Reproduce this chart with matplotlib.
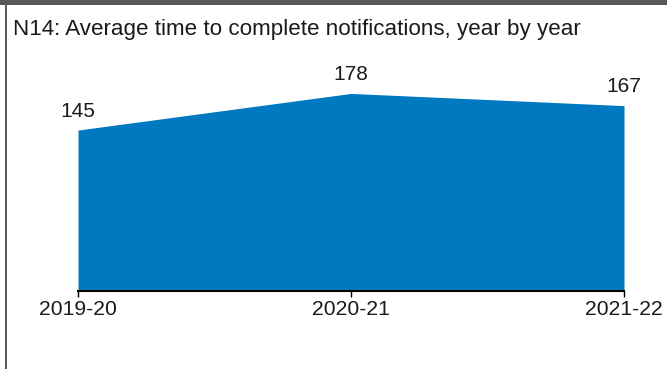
import matplotlib
matplotlib.use("Agg")
import matplotlib.pyplot as plt
from matplotlib.patches import Rectangle

categories = ["2019-20", "2020-21", "2021-22"]
values = [145, 178, 167]
title = "N14: Average time to complete notifications, year by year"

W, H = 667, 369
fig = plt.figure(figsize=(W / 100, H / 100), dpi=100)
plt.rcParams['font.family'] = ['Liberation Sans', 'DejaVu Sans']

# frame
fig.patches.append(Rectangle((0, 1 - 5 / H), 1, 5 / H, transform=fig.transFigure,
                             facecolor="#595959", edgecolor="none"))
fig.patches.append(Rectangle((5 / W, 0), 2 / W, 1, transform=fig.transFigure,
                             facecolor="#595959", edgecolor="none"))

ax = fig.add_axes([78 / W, 78 / H, (624 - 78) / W, 222 / H])
x = list(range(len(categories)))
ax.fill_between(x, values, 0, color="#0179C0", linewidth=0)
ax.set_xlim(0, len(categories) - 1)
ax.set_ylim(0, 200)
for s in ["top", "right", "left"]:
    ax.spines[s].set_visible(False)
ax.spines["bottom"].set_linewidth(1.5)
ax.spines["bottom"].set_color("black")
ax.set_yticks([])
ax.set_xticks(x)
ax.set_xticklabels(categories, fontsize=15.2, color="#1a1a1a")
ax.tick_params(axis="x", length=4, width=1, pad=2.5)
ax.patch.set_alpha(0)

for xi, v in zip(x, values):
    ax.annotate(str(v), (xi, v), xytext=(0, 9.5), textcoords="offset points",
                ha="center", va="baseline", fontsize=15, color="#1a1a1a",
                annotation_clip=False)

fig.text(13 / W, 1 - 30 / H, title, fontsize=16.1, color="#1a1a1a", va="center", ha="left")

fig.savefig("out.png", dpi=100)
